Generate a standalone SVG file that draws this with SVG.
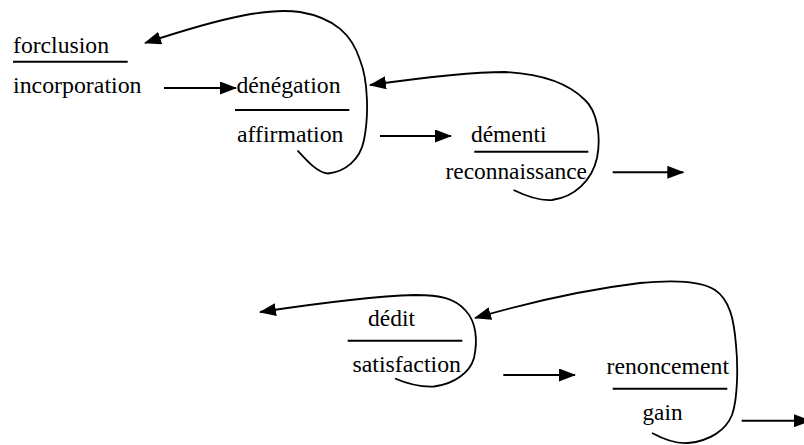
<svg xmlns="http://www.w3.org/2000/svg" width="804" height="445" viewBox="0 0 804 445">
  <defs>
    <style>
      .t { font-family: 'Liberation Serif', 'DejaVu Serif', 'Noto Serif', serif; font-size: 23.5px; fill: #000; }
      .bar { stroke: #000; stroke-width: 2; fill: none; }
      .arr { stroke: #000; stroke-width: 2; fill: none; }
      .loop { stroke: #000; stroke-width: 1.8; fill: none; }
    </style>
    <marker id="head" markerUnits="userSpaceOnUse" markerWidth="17" markerHeight="13" refX="16" refY="6.5" orient="auto">
      <path d="M0,0 L17,6.5 L0,13 z" fill="#000"/>
    </marker>
  </defs>
  <rect width="804" height="445" fill="#fff"/>

  <g id="node-forclusion" class="t">
    <text x="13" y="52.5" textLength="96" lengthAdjust="spacingAndGlyphs">forclusion</text>
    <line class="bar" x1="13" y1="61.7" x2="127.7" y2="61.7"/>
    <text x="13" y="93" textLength="128.5" lengthAdjust="spacingAndGlyphs">incorporation</text>
  </g>

  <g id="node-denegation" class="t">
    <text x="236.5" y="92.5" textLength="104" lengthAdjust="spacingAndGlyphs">dénégation</text>
    <line class="bar" x1="235" y1="110" x2="349.3" y2="110"/>
    <text x="237" y="141.5" textLength="106.5" lengthAdjust="spacingAndGlyphs">affirmation</text>
  </g>

  <g id="node-dementi" class="t">
    <text x="471" y="141.5" textLength="75.5" lengthAdjust="spacingAndGlyphs">démenti</text>
    <line class="bar" x1="474.3" y1="151.7" x2="588.3" y2="151.7"/>
    <text x="445.5" y="178.5" textLength="141.5" lengthAdjust="spacingAndGlyphs">reconnaissance</text>
  </g>

  <g id="node-dedit" class="t">
    <text x="368" y="326" textLength="47" lengthAdjust="spacingAndGlyphs">dédit</text>
    <line class="bar" x1="347.7" y1="340.7" x2="462.3" y2="340.7"/>
    <text x="352.5" y="371.5" textLength="108.5" lengthAdjust="spacingAndGlyphs">satisfaction</text>
  </g>

  <g id="node-renoncement" class="t">
    <text x="606.5" y="374" textLength="122.5" lengthAdjust="spacingAndGlyphs">renoncement</text>
    <line class="bar" x1="612.7" y1="388.7" x2="727.3" y2="388.7"/>
    <text x="642.5" y="420" textLength="40" lengthAdjust="spacingAndGlyphs">gain</text>
  </g>

  <g id="connectors">
    <line class="arr" x1="164" y1="88" x2="236" y2="88" marker-end="url(#head)"/>
    <line class="arr" x1="380" y1="136" x2="451" y2="136" marker-end="url(#head)"/>
    <line class="arr" x1="612.7" y1="172.3" x2="683.3" y2="172.3" marker-end="url(#head)"/>
    <line class="arr" x1="503.3" y1="375" x2="575" y2="375" marker-end="url(#head)"/>
    <line class="arr" x1="741.7" y1="420.7" x2="810" y2="420.7" marker-end="url(#head)"/>

    <path class="loop" d="M297.5,150.5 C308,162 318,173 328,173.5 C345,172 360,160 364,140 C369,115 368,80 360,60 C352,35 335,18 300,12 C270,8 230,15 145,43" marker-end="url(#head)"/>
    <path class="loop" d="M513.5,190 C528,197 540,201 552,200 C575,197 592,180 597,158 C601,138 598,112 585,100 C570,85 545,74 505,72 C470,72 420,78 370,85" marker-end="url(#head)"/>
    <path class="loop" d="M395,378.5 C410,385 422,387 434,386.5 C455,384 470,372 474,358 C478,340 476,322 466,311 C455,298 440,295 415,295 C380,296 320,303 260,312" marker-end="url(#head)"/>
    <path class="loop" d="M652,433 C665,440 676,444 688,443 C710,441 726,430 732,415 C738,398 738,365 736,345 C734,320 730,300 715,290 C700,280 670,280 640,283 C590,289 530,302 475,318" marker-end="url(#head)"/>
  </g>
</svg>
